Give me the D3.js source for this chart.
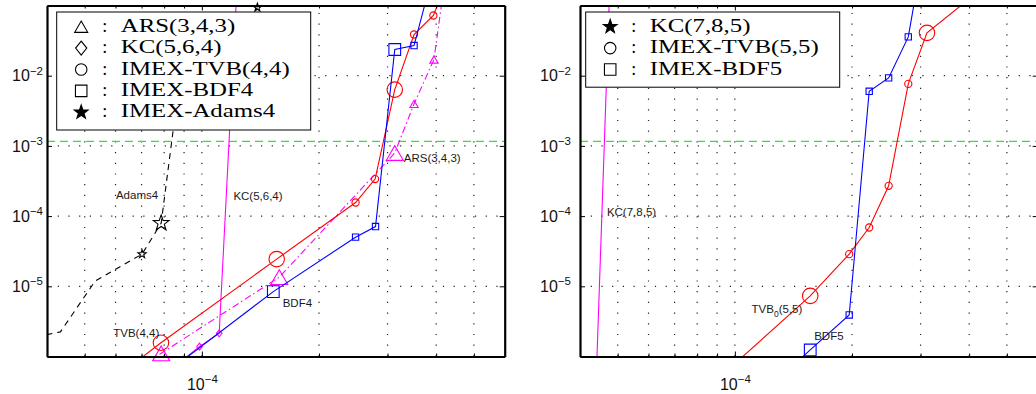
<!DOCTYPE html>
<html>
<head>
<meta charset="utf-8">
<script src="https://cdn.jsdelivr.net/npm/d3@7.8.5/dist/d3.min.js"></script>
<style>
  html, body { margin: 0; padding: 0; background: #fff; overflow: hidden; }
  svg { display: block; }
</style>
</head>
<body>
<div id="chart"></div>
<script>
// ---- values: time step (x) against error (y) ----

// left panel: 4th order schemes
const ars343Dt = [6.74e-5, 7.86e-5, 1.581e-4, 3.131e-4, 3.509e-4, 3.948e-4, 4.18e-4];
const ars343Err = [6.4e-7, 1.11e-6, 1.35e-5, 7.93e-4, 3.96e-3, 1.7e-2, 1.69e-1];
const ars343Large = [1, 2, 3];
const ars343Small = [4, 5];

const kc564Dt = [8.3e-5, 9.86e-5, 1.108e-4, 1.23e-4];
const kc564Err = [6.5e-7, 1.38e-6, 2.14e-6, 1.69e-1];
const kc564Large = [];
const kc564Small = [1, 2];

const tvb44Dt = [6.36e-5, 7.85e-5, 1.557e-4, 2.483e-4, 2.787e-4, 3.131e-4, 3.509e-4, 3.934e-4, 4.18e-4];
const tvb44Err = [6.41e-7, 1.57e-6, 2.44e-5, 1.563e-4, 3.37e-4, 6.34e-3, 3.86e-2, 7.2e-2, 1.69e-1];
const tvb44Large = [1, 2, 5];
const tvb44Small = [3, 4, 6, 7];

const bdf4Dt = [8.29e-5, 1.526e-4, 2.483e-4, 2.794e-4, 3.131e-4, 3.509e-4, 3.83e-4];
const bdf4Err = [6.41e-7, 8.4e-6, 5.01e-5, 7.1e-5, 2.36e-2, 2.69e-2, 1.69e-1];
const bdf4Large = [1, 4];
const bdf4Small = [2, 3, 5];

const adams4Dt = [3.74e-5, 4.33e-5, 5.32e-5, 7.02e-5, 7.86e-5, 8.54e-5, 1.389e-4];
const adams4Err = [1.9e-6, 2.24e-6, 1.19e-5, 2.87e-5, 7.94e-5, 2.79e-3, 9.35e-2];
const adams4Large = [4];
const adams4Small = [3, 6];

// right panel: 5th order schemes
const kc785Dt = [4.36e-5, 4.82e-5];
const kc785Err = [1e-7, 1];

const tvb55Dt = [9.59e-5, 1.562e-4, 1.967e-4, 2.214e-4, 2.484e-4, 2.79e-4, 3.116e-4, 4.29e-4];
const tvb55Err = [6.42e-7, 7.3e-6, 2.87e-5, 6.88e-5, 2.7e-4, 7.64e-3, 4.08e-2, 1.69e-1];
const tvb55Large = [1, 6];
const tvb55Small = [2, 3, 4, 5];

const bdf5Dt = [1.368e-4, 1.562e-4, 1.967e-4, 2.214e-4, 2.484e-4, 2.79e-4, 2.93e-4];
const bdf5Err = [6.4e-7, 1.24e-6, 3.91e-6, 5.99e-3, 9.3e-3, 3.57e-2, 1.69e-1];
const bdf5Large = [1];
const bdf5Small = [2, 3, 4, 5];

// axes
const xDomain = [4e-5, 6e-4];
const yDomain = [1e-6, 1e-1];
const xGridTicks = [5e-5, 6e-5, 7e-5, 8e-5, 9e-5, 1e-4, 2e-4, 3e-4, 4e-4, 5e-4];
const xMajorTicks = [1e-4];
const yMajorTicks = [1e-5, 1e-4, 1e-3, 1e-2];
const stabilityErr = 1.16e-3;

// legends
const leftLegendSymbols = ["triangle", "diamond", "circle", "square", "filledStar"];
const leftLegendNames = ["ARS(3,4,3)", "KC(5,6,4)", "IMEX-TVB(4,4)", "IMEX-BDF4", "IMEX-Adams4"];
const rightLegendSymbols = ["filledStar", "circle", "square"];
const rightLegendNames = ["KC(7,8,5)", "IMEX-TVB(5,5)", "IMEX-BDF5"];

// curve labels: text, and the (dt, err) where the text sits
const leftNoteTexts = ["Adams4", "KC(5,6,4)", "TVB(4,4)", "BDF4", "ARS(3,4,3)"];
const leftNoteDt = [7.72e-5, 1.205e-4, 7.77e-5, 1.613e-4, 3.302e-4];
const leftNoteErr = [1.77e-4, 1.71e-4, 1.92e-6, 5.13e-6, 5.82e-4];
const leftNoteAnchor = ["end", "start", "end", "start", "start"];
const rightNoteTexts = ["KC(7,8,5)", "TVB_0(5,5)", "BDF5"];
const rightNoteDt = [4.69e-5, 1.104e-4, 1.599e-4];
const rightNoteErr = [1.01e-4, 4.13e-6, 1.72e-6];
const rightNoteAnchor = ["start", "start", "start"];

// ---- drawing ----
const width = 1036, height = 394;
const plotTop = 5.5, plotBottom = 356.5;
const sans = "'Liberation Sans', Arial, Helvetica, sans-serif";
const serif = "'Liberation Serif', 'Times New Roman', serif";

const pts = (dt, err) => dt.map((d, i) => [d, err[i]]);

const markerSize = {
  circle: [7.2, 15.5],
  square: [6.3, 11.7],
  triangle: [8.3, 17],
  diamond: [7, 14],
  star: [8.6, 16.5]
};

// legend key shapes (width in px)
const legendKeySize = { triangle: 13, diamond: 14, circle: 11.5, square: 11.5, filledStar: 14.5 };

function markerPath(kind, s) {
  const h = s / 2;
  if (kind === "circle") return `M${-h},0a${h},${h} 0 1,0 ${s},0a${h},${h} 0 1,0 ${-s},0Z`;
  if (kind === "square") return `M${-h},${-h}H${h}V${h}H${-h}Z`;
  if (kind === "triangle") {
    const t = s * 0.866 / 2;
    return `M0,${-t}L${h},${t}L${-h},${t}Z`;
  }
  if (kind === "diamond") return `M0,${-h}L${h * 0.8},0L0,${h}L${-h * 0.8},0Z`;
  // pentagram
  const p = [];
  for (let k = 0; k < 10; k++) {
    const r = k % 2 === 0 ? h : h * 0.4;
    const a = -Math.PI / 2 + k * Math.PI / 5;
    p.push([r * Math.cos(a), r * Math.sin(a)]);
  }
  return "M" + p.map(q => q.join(",")).join("L") + "Z";
}

const panels = [
  {
    id: "left", left: 47, right: 504.7, labelGap: 4,
    series: [
      { data: pts(ars343Dt, ars343Err), small: ars343Small, large: ars343Large, color: "#ff00ff", dash: "7,3,1.5,3", symbol: "triangle" },
      { data: pts(kc564Dt, kc564Err), small: kc564Small, large: kc564Large, color: "#ff00ff", dash: null, symbol: "diamond" },
      { data: pts(tvb44Dt, tvb44Err), small: tvb44Small, large: tvb44Large, color: "#ff0000", dash: null, symbol: "circle" },
      { data: pts(bdf4Dt, bdf4Err), small: bdf4Small, large: bdf4Large, color: "#0000ff", dash: null, symbol: "square" },
      { data: pts(adams4Dt, adams4Err), small: adams4Small, large: adams4Large, color: "#000000", dash: "6,5", symbol: "star" }
    ],
    notes: leftNoteTexts.map((t, i) => ({ text: t, dt: leftNoteDt[i], err: leftNoteErr[i], anchor: leftNoteAnchor[i] })),
    legendX: 56.7, legendSymbols: leftLegendSymbols, legendNames: leftLegendNames
  },
  {
    id: "right", left: 580, right: 1037.7, labelGap: 9,
    series: [
      { data: pts(kc785Dt, kc785Err), small: [], large: [], color: "#ff00ff", dash: null, symbol: "star" },
      { data: pts(tvb55Dt, tvb55Err), small: tvb55Small, large: tvb55Large, color: "#ff0000", dash: null, symbol: "circle" },
      { data: pts(bdf5Dt, bdf5Err), small: bdf5Small, large: bdf5Large, color: "#0000ff", dash: null, symbol: "square" }
    ],
    notes: rightNoteTexts.map((t, i) => ({ text: t, dt: rightNoteDt[i], err: rightNoteErr[i], anchor: rightNoteAnchor[i] })),
    legendX: 585.7, legendSymbols: rightLegendSymbols, legendNames: rightLegendNames
  }
];

const svg = d3.select("#chart")
  .append("svg")
  .attr("width", width)
  .attr("height", height)
  .attr("font-family", sans);

// "10" with a raised exponent
function addExponent(sel) {
  sel.selectAll(".tick text").each(function (d) {
    const t = d3.select(this);
    t.text("10");
    t.append("tspan")
      .attr("dy", -6.5)
      .attr("font-size", 11.5)
      .text("\u2212" + Math.round(-Math.log10(d)));
  });
}

function styleAxis(sel) {
  sel.attr("font-family", sans).attr("font-size", 16);
  sel.select(".domain").attr("stroke", "#000").attr("stroke-width", 2.2);
  sel.selectAll(".tick line").attr("stroke", "#000").attr("stroke-width", 1);
  sel.selectAll(".tick text").attr("fill", "#111");
}

function drawPanel(p) {
  const x = d3.scaleLog().domain(xDomain).range([p.left, p.right]);
  const y = d3.scaleLog().domain(yDomain).range([plotBottom, plotTop]);
  const g = svg.append("g");

  g.append("clipPath")
    .attr("id", p.id + "-clip")
    .append("rect")
    .attr("x", p.left)
    .attr("y", plotTop)
    .attr("width", p.right - p.left)
    .attr("height", plotBottom - plotTop);

  // dotted grid
  const grid = g.append("g")
    .attr("stroke", "#222")
    .attr("stroke-width", 1.2)
    .attr("stroke-dasharray", "1.2,9.5");
  grid.selectAll(".gx")
    .data(xGridTicks)
    .join("line")
    .attr("x1", d => x(d)).attr("x2", d => x(d))
    .attr("y1", plotBottom).attr("y2", plotTop);
  grid.selectAll(".gy")
    .data(yMajorTicks)
    .join("line")
    .attr("x1", p.left).attr("x2", p.right)
    .attr("y1", d => y(d)).attr("y2", d => y(d));

  // green dashed level
  g.append("line")
    .attr("x1", p.left).attr("x2", p.right)
    .attr("y1", y(stabilityErr)).attr("y2", y(stabilityErr))
    .attr("stroke", "#22ee22")
    .attr("stroke-width", 1.2)
    .attr("stroke-dasharray", "8,5");

  const line = d3.line().x(d => x(d[0])).y(d => y(d[1]));

  p.series.forEach(s => {
    g.append("path")
      .datum(s.data)
      .attr("d", line)
      .attr("fill", "none")
      .attr("stroke", s.color)
      .attr("stroke-width", 1.1)
      .attr("stroke-dasharray", s.dash)
      .attr("clip-path", `url(#${p.id}-clip)`);

    const marks = s.small.map(i => ({ d: s.data[i], size: markerSize[s.symbol][0] }))
      .concat(s.large.map(i => ({ d: s.data[i], size: markerSize[s.symbol][1] })));

    g.append("g")
      .selectAll("path")
      .data(marks)
      .join("path")
      .attr("transform", m => `translate(${x(m.d[0])},${y(m.d[1])})`)
      .attr("d", m => markerPath(s.symbol, m.size))
      .attr("fill", "none")
      .attr("stroke", s.color)
      .attr("stroke-width", 1.1);
  });

  // curve labels
  p.notes.forEach(n => {
    const t = g.append("text")
      .attr("x", x(n.dt))
      .attr("y", y(n.err))
      .attr("text-anchor", n.anchor)
      .attr("font-size", 11.5)
      .attr("fill", "#1a1a1a");
    const parts = n.text.split("_");
    t.append("tspan").text(parts[0]);
    if (parts.length > 1) {
      t.append("tspan").attr("dy", 4).attr("font-size", 8.5).text(parts[1][0]);
      t.append("tspan").attr("dy", -4).text(parts[1].slice(1));
    }
  });

  // axes, ticks inside
  g.append("g")
    .attr("transform", `translate(${p.left},0)`)
    .call(d3.axisLeft(y).tickValues(yMajorTicks).tickSizeInner(-5).tickSizeOuter(0)
      .tickPadding(p.labelGap).tickFormat(() => "10"))
    .call(styleAxis)
    .call(addExponent);

  g.append("g")
    .attr("transform", `translate(${p.right},0)`)
    .call(d3.axisRight(y).tickValues(yMajorTicks).tickSizeInner(-5).tickSizeOuter(0).tickFormat(""))
    .call(styleAxis);

  const minorX = xGridTicks.filter(v => !xMajorTicks.includes(v));

  g.append("g")
    .attr("transform", `translate(0,${plotBottom})`)
    .call(d3.axisBottom(x).tickValues(minorX).tickSizeInner(-3).tickSizeOuter(0).tickFormat(""))
    .call(styleAxis);

  g.append("g")
    .attr("transform", `translate(0,${plotBottom})`)
    .call(d3.axisBottom(x).tickValues(xMajorTicks).tickSizeInner(-5).tickSizeOuter(0)
      .tickPadding(22).tickFormat(() => "10"))
    .call(styleAxis)
    .call(addExponent);

  g.append("g")
    .attr("transform", `translate(0,${plotTop})`)
    .call(d3.axisTop(x).tickValues(minorX).tickSizeInner(-3).tickSizeOuter(0).tickFormat(""))
    .call(styleAxis);

  g.append("g")
    .attr("transform", `translate(0,${plotTop})`)
    .call(d3.axisTop(x).tickValues(xMajorTicks).tickSizeInner(-5).tickSizeOuter(0).tickFormat(""))
    .call(styleAxis);

  // legend box
  const rowH = 21.4;
  const legend = g.append("g").attr("transform", `translate(${p.legendX},12)`);
  legend.append("rect")
    .attr("width", 254)
    .attr("height", p.legendNames.length * rowH + 11)
    .attr("fill", "#fff")
    .attr("stroke", "#000")
    .attr("stroke-width", 1);

  const rows = legend.selectAll(".row")
    .data(p.legendNames)
    .join("g")
    .attr("transform", (d, i) => `translate(0,${19.7 + i * rowH})`);

  rows.append("path")
    .attr("transform", "translate(24.5,-5)")
    .attr("d", (d, i) => {
      const k = p.legendSymbols[i];
      return markerPath(k === "filledStar" ? "star" : k, legendKeySize[k]);
    })
    .attr("fill", (d, i) => p.legendSymbols[i] === "filledStar" ? "#000" : "none")
    .attr("stroke", "#000")
    .attr("stroke-width", 1.1);

  rows.append("text")
    .attr("x", 48)
    .attr("text-anchor", "middle")
    .attr("font-family", serif)
    .attr("font-size", 18)
    .text(":");

  rows.append("text")
    .attr("transform", "translate(64,0) scale(1.38,1)")
    .attr("font-family", serif)
    .attr("font-size", 18)
    .text(d => d);
}

panels.forEach(drawPanel);
</script>
</body>
</html>
